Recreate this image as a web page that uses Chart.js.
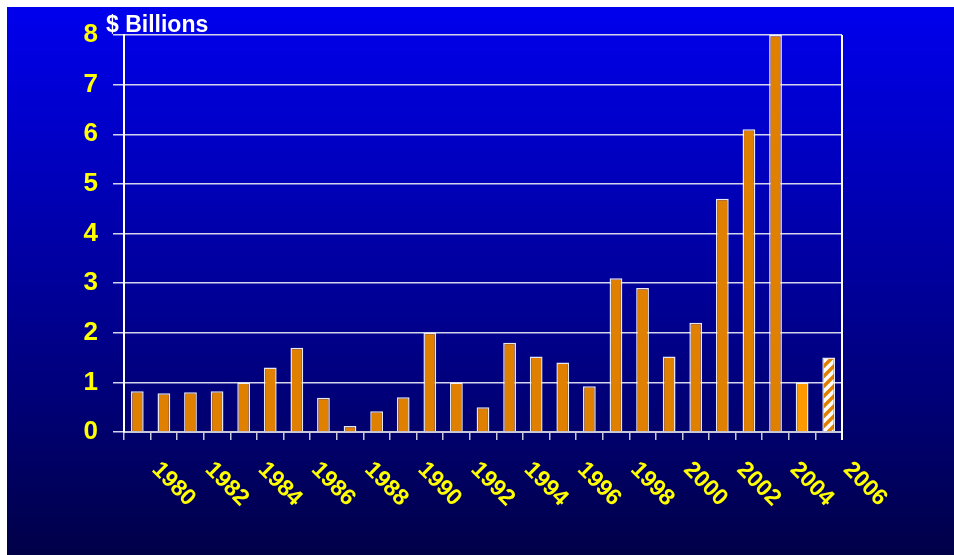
<!DOCTYPE html>
<html>
<head>
<meta charset="utf-8">
<script src="https://cdn.jsdelivr.net/npm/chart.js@4.4.1/dist/chart.umd.min.js"></script>
<style>
  html, body { margin: 0; padding: 0; background: #fff; }
  #wrap { width: 954px; height: 555px; position: relative; }
</style>
</head>
<body>
<div id="wrap"><canvas id="myChart" width="954" height="555"></canvas></div>
<script>
// yearly totals, $ billions (last year is an estimate)
let years = ["1979", "1980", "1981", "1982", "1983", "1984", "1985", "1986", "1987",
  "1988", "1989", "1990", "1991", "1992", "1993", "1994", "1995", "1996", "1997",
  "1998", "1999", "2000", "2001", "2002", "2003", "2004", "2005"];
let billions = [0.82, 0.78, 0.8, 0.82, 1.0, 1.3, 1.7, 0.69, 0.12, 0.42, 0.7, 2.0, 1.0,
  0.5, 1.8, 1.52, 1.4, 0.92, 3.1, 2.9, 1.52, 2.2, 4.7, 6.1, 8.0, 1.0, 1.5];
let yearTicks = ["1980", "1982", "1984", "1986", "1988", "1990", "1992", "1994",
  "1996", "1998", "2000", "2002", "2004", "2006"];
let yTicks = [0, 1, 2, 3, 4, 5, 6, 7, 8];

const FONT = "Arial, 'Liberation Sans', sans-serif";
const ORANGE = "#E08000";

// striped fill for the estimated year
function hatch() {
  let c = document.createElement("canvas");
  c.width = 10;
  c.height = 10;
  let g = c.getContext("2d");
  g.fillStyle = "#ffffff";
  g.fillRect(0, 0, 10, 10);
  g.strokeStyle = ORANGE;
  g.lineWidth = 3.5;
  g.beginPath();
  g.moveTo(-2, 12); g.lineTo(12, -2);
  g.moveTo(-2, 2); g.lineTo(2, -2);
  g.moveTo(8, 12); g.lineTo(12, 8);
  g.stroke();
  return g.createPattern(c, "repeat");
}

let barColors = years.map((y) => {
  if (y == "2005") return hatch();
  if (y == "2004") return "#FF9900";
  return ORANGE;
});

const background = {
  id: "background",
  beforeDraw(chart) {
    let ctx = chart.ctx;
    ctx.save();
    ctx.fillStyle = "#ffffff";
    ctx.fillRect(0, 0, chart.width, chart.height);
    let grad = ctx.createLinearGradient(0, 7, 0, chart.height);
    grad.addColorStop(0, "#0000EE");
    grad.addColorStop(1, "#000048");
    ctx.fillStyle = grad;
    ctx.fillRect(7, 7, chart.width - 7, chart.height - 7);
    ctx.restore();
  },
};

// rotated year labels sit on the boundaries between bars, plus the frame lines
const yearLabels = {
  id: "yearLabels",
  afterDraw(chart) {
    let ctx = chart.ctx;
    let x = chart.scales.x;
    let area = chart.chartArea;
    ctx.save();
    ctx.strokeStyle = "#ffffff";
    ctx.lineWidth = 2;
    ctx.beginPath();
    ctx.moveTo(area.right, area.top);
    ctx.lineTo(area.right, area.bottom + 8);
    ctx.stroke();

    ctx.fillStyle = "#FFFF00";
    ctx.font = "bold 23px " + FONT;
    ctx.textAlign = "left";
    ctx.textBaseline = "top";
    yearTicks.forEach((label) => {
      let k = years.indexOf(label);
      if (k < 0) k = years.length;
      let px = x.getPixelForValue(k - 0.5);
      ctx.save();
      ctx.translate(px + 13, area.bottom + 26);
      ctx.rotate(Math.PI / 4);
      ctx.fillText(label, 0, 0);
      ctx.restore();
    });

    ctx.fillStyle = "#ffffff";
    ctx.font = "bold 23px " + FONT;
    ctx.textBaseline = "alphabetic";
    ctx.fillText("$ Billions", 106, 32);
    ctx.restore();
  },
};

const ctx = document.getElementById("myChart");
new Chart(ctx, {
  type: "bar",
  data: {
    labels: years,
    datasets: [
      {
        label: "$ Billions",
        data: billions,
        backgroundColor: barColors,
        borderColor: "rgba(255,255,255,0.9)",
        borderWidth: 1.5,
        barPercentage: 0.48,
        categoryPercentage: 1,
      },
    ],
  },
  options: {
    responsive: false,
    animation: false,
    layout: { padding: { left: 0, top: 35, right: 112, bottom: 0 } },
    plugins: { legend: { display: false }, tooltip: { enabled: false } },
    scales: {
      x: {
        offset: true,
        grid: {
          offset: true,
          color: (c) => (c.tick ? "rgba(0,0,0,0)" : "#ffffff"),
          tickColor: "#C8C8DC",
          tickLength: 8,
          lineWidth: 1.5,
        },
        border: { display: true, color: "#C8C8DC", width: 2 },
        ticks: { display: false },
        afterFit(scale) {
          scale.height = 123;
        },
      },
      y: {
        min: 0,
        max: 8,
        afterBuildTicks(scale) {
          scale.ticks = yTicks.map((v) => ({ value: v }));
        },
        grid: {
          color: "#D4D4EC",
          lineWidth: 1.5,
          tickLength: 11,
        },
        border: { display: true, color: "#ffffff", width: 2 },
        ticks: {
          color: "#FFFF00",
          font: { family: FONT, size: 26, weight: "bold" },
          padding: 15,
        },
        afterFit(scale) {
          scale.width = 124;
        },
      },
    },
  },
  plugins: [background, yearLabels],
});
</script>
</body>
</html>
